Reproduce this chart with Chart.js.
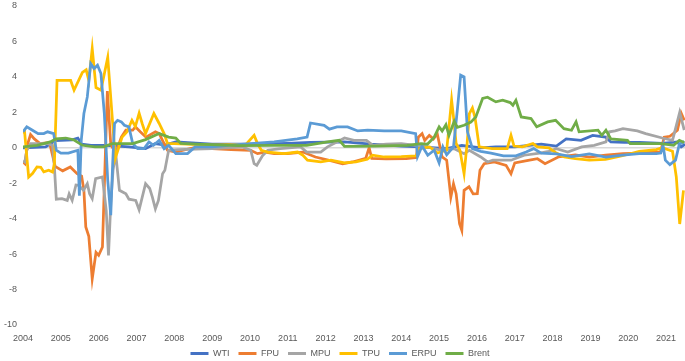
<!DOCTYPE html>
<html>
<head>
<meta charset="utf-8">
<script src="https://cdn.jsdelivr.net/npm/chart.js@4.4.1/dist/chart.umd.min.js"></script>
<style>
  body { margin: 0; background: #fff; }
</style>
</head>
<body>
<canvas id="uncertainty" width="685" height="361"></canvas>
<script>
// dates are decimal years
var wtiDates = [2004.0, 2004.6, 2004.85, 2005.3, 2005.45, 2005.55, 2005.8, 2006.2, 2006.8, 2007.24, 2007.5, 2007.75, 2008.04, 2009.0, 2010.0, 2011.0, 2011.6, 2012.5, 2013.2, 2014.0, 2014.5, 2015.2, 2015.6, 2016.1, 2016.5, 2017.0, 2017.7, 2018.1, 2018.36, 2018.75, 2019.06, 2019.4, 2019.54, 2019.9, 2020.3, 2020.9, 2021.3, 2021.4, 2021.5];
var wtiValues = [0.0, 0.05, 0.4, 0.45, 0.55, 0.2, 0.14, 0.14, 0.05, -0.05, 0.24, 0.15, 0.33, 0.2, 0.2, 0.25, 0.3, 0.33, 0.2, 0.1, 0.05, -0.05, 0.14, 0.0, 0.05, 0.05, 0.2, 0.1, 0.5, 0.42, 0.7, 0.6, 0.33, 0.3, 0.3, 0.25, 0.33, 0.05, 0.2];

var fpuDates = [2004.0, 2004.05, 2004.12, 2004.2, 2004.3, 2004.45, 2004.7, 2004.85, 2005.05, 2005.25, 2005.43, 2005.55, 2005.61, 2005.66, 2005.74, 2005.83, 2005.93, 2006.0, 2006.1, 2006.23, 2006.32, 2006.45, 2006.6, 2006.72, 2006.9, 2006.97, 2007.1, 2007.25, 2007.5, 2007.6, 2007.73, 2007.82, 2008.04, 2008.5, 2009.0, 2009.5, 2010.02, 2010.2, 2010.4, 2010.64, 2011.0, 2011.4, 2011.73, 2012.18, 2012.45, 2012.71, 2013.06, 2013.15, 2013.22, 2013.6, 2014.13, 2014.4, 2014.45, 2014.55, 2014.62, 2014.74, 2014.85, 2014.95, 2015.08, 2015.2, 2015.31, 2015.38, 2015.45, 2015.54, 2015.6, 2015.66, 2015.79, 2015.9, 2016.01, 2016.08, 2016.19, 2016.46, 2016.77, 2016.9, 2017.0, 2017.39, 2017.6, 2017.8, 2018.15, 2018.6, 2018.97, 2019.4, 2019.86, 2020.3, 2020.65, 2020.85, 2020.95, 2021.1, 2021.3, 2021.4, 2021.48];
var fpuValues = [-0.8, -0.9, 0.2, 0.75, 0.5, 0.24, 0.3, -1.05, -1.3, -1.08, -1.46, -1.6, -2.4, -4.47, -5.0, -7.4, -5.9, -6.07, -5.6, 3.2, 0.2, -0.3, 0.6, 0.99, 0.99, 1.18, 0.9, 0.6, 0.9, 0.8, 0.24, -0.14, -0.24, 0.0, -0.05, -0.1, -0.14, -0.33, -0.24, -0.33, -0.33, -0.24, -0.52, -0.75, -0.9, -0.8, -0.6, 0.0, -0.6, -0.62, -0.61, -0.55, 0.6, 0.8, 0.42, 0.7, 0.5, 0.8, -0.52, -0.7, -2.78, -2.03, -2.59, -4.28, -4.66, -2.4, -2.2, -2.6, -2.59, -1.27, -0.9, -0.8, -0.99, -1.46, -0.85, -0.7, -0.62, -0.9, -0.52, -0.4, -0.52, -0.42, -0.33, -0.3, -0.24, -0.24, 0.6, 0.65, 0.99, 1.95, 1.55];

var mpuDates = [2004.0, 2004.05, 2004.1, 2004.2, 2004.63, 2004.78, 2004.83, 2004.88, 2005.03, 2005.17, 2005.22, 2005.3, 2005.4, 2005.47, 2005.6, 2005.7, 2005.76, 2005.83, 2005.92, 2006.1, 2006.2, 2006.26, 2006.32, 2006.38, 2006.45, 2006.55, 2006.72, 2006.8, 2006.98, 2007.07, 2007.24, 2007.35, 2007.42, 2007.5, 2007.58, 2007.69, 2007.75, 2007.85, 2008.1, 2009.0, 2009.8, 2010.02, 2010.11, 2010.18, 2010.33, 2010.47, 2010.8, 2011.34, 2011.5, 2011.87, 2012.05, 2012.5, 2012.75, 2013.08, 2013.25, 2013.6, 2014.0, 2014.38, 2014.7, 2015.05, 2015.4, 2015.66, 2015.8, 2016.1, 2016.28, 2016.42, 2016.9, 2017.25, 2017.66, 2017.9, 2018.1, 2018.4, 2018.77, 2019.1, 2019.41, 2019.5, 2019.65, 2019.86, 2020.24, 2020.46, 2020.9, 2021.17, 2021.36, 2021.48];
var mpuValues = [-0.75, -0.8, -0.14, 0.24, 0.24, 0.14, -1.08, -2.9, -2.87, -2.97, -2.6, -2.97, -2.1, -2.12, -2.4, -2.03, -2.59, -2.87, -1.74, -1.65, -3.53, -6.07, -3.15, -1.27, -0.3, -2.4, -2.6, -2.9, -2.97, -3.5, -2.03, -2.3, -2.78, -3.44, -2.97, -1.46, -1.27, -0.14, -0.1, -0.05, 0.05, -0.14, -0.9, -0.99, -0.45, -0.14, -0.05, 0.05, -0.24, -0.24, 0.05, 0.55, 0.42, 0.42, 0.14, 0.2, 0.24, 0.14, 0.05, -0.14, -0.05, -0.33, -0.14, -0.52, -0.8, -0.7, -0.7, -0.42, -0.3, -0.2, -0.05, -0.24, 0.05, 0.14, 0.33, 0.9, 0.95, 1.08, 0.95, 0.8, 0.55, 0.42, 2.0, 1.0];

var tpuDates = [2004.0, 2004.04, 2004.1, 2004.15, 2004.25, 2004.37, 2004.47, 2004.55, 2004.68, 2004.78, 2004.83, 2004.9, 2005.26, 2005.35, 2005.57, 2005.67, 2005.74, 2005.83, 2005.93, 2006.06, 2006.24, 2006.44, 2006.62, 2006.75, 2006.88, 2006.97, 2007.07, 2007.15, 2007.24, 2007.46, 2007.6, 2007.73, 2007.82, 2008.0, 2009.0, 2009.9, 2010.11, 2010.2, 2010.3, 2010.47, 2010.9, 2011.26, 2011.4, 2011.52, 2011.87, 2012.14, 2012.5, 2012.8, 2013.1, 2013.24, 2013.55, 2014.0, 2014.4, 2014.47, 2014.75, 2014.95, 2015.2, 2015.33, 2015.38, 2015.45, 2015.55, 2015.66, 2015.74, 2015.8, 2015.88, 2015.95, 2016.06, 2016.4, 2016.8, 2016.9, 2016.98, 2017.2, 2017.48, 2017.6, 2017.9, 2018.1, 2018.31, 2018.6, 2018.97, 2019.4, 2019.85, 2020.29, 2020.74, 2020.9, 2021.17, 2021.27, 2021.36, 2021.46];
var tpuValues = [0.8, 0.95, -0.5, -1.65, -1.45, -1.08, -1.1, -1.36, -1.27, -1.37, -0.9, 3.8, 3.8, 3.25, 4.25, 4.4, 3.8, 5.6, 3.4, 3.25, 5.1, -0.6, 0.6, 0.9, 1.55, 1.2, 1.95, 1.37, 0.8, 1.93, 1.37, 0.8, 0.24, 0.24, 0.15, 0.2, 0.7, 0.24, -0.14, -0.24, -0.33, -0.24, -0.42, -0.7, -0.8, -0.7, -0.85, -0.8, -0.65, -0.42, -0.52, -0.5, -0.45, -0.05, 0.05, -0.3, -0.14, 2.7, 1.74, 0.24, -0.14, -1.46, 0.24, 1.93, 2.25, 1.7, 0.05, -0.05, -0.05, 0.7, 0.1, 0.05, 0.24, 0.05, 0.0, -0.3, -0.52, -0.61, -0.7, -0.65, -0.45, -0.2, -0.1, 0.0, -0.2, -1.65, -4.3, -2.4];

var erpuDates = [2004.0, 2004.1, 2004.25, 2004.4, 2004.55, 2004.65, 2004.81, 2004.88, 2005.0, 2005.2, 2005.45, 2005.49, 2005.54, 2005.61, 2005.7, 2005.79, 2005.88, 2005.97, 2006.06, 2006.15, 2006.24, 2006.32, 2006.37, 2006.42, 2006.5, 2006.6, 2006.68, 2006.8, 2006.9, 2007.03, 2007.2, 2007.33, 2007.45, 2007.6, 2007.73, 2007.85, 2008.04, 2008.35, 2008.55, 2009.0, 2009.5, 2010.02, 2010.64, 2011.25, 2011.51, 2011.6, 2011.96, 2012.1, 2012.3, 2012.58, 2012.85, 2013.11, 2013.55, 2014.0, 2014.38, 2014.43, 2014.55, 2014.7, 2014.87, 2015.0, 2015.1, 2015.2, 2015.38, 2015.48, 2015.57, 2015.66, 2015.75, 2015.88, 2016.1, 2016.37, 2016.7, 2017.03, 2017.3, 2017.5, 2017.7, 2018.1, 2018.5, 2018.97, 2019.41, 2019.85, 2020.29, 2020.74, 2020.86, 2020.92, 2020.98, 2021.1, 2021.25, 2021.35, 2021.48];
var erpuValues = [0.9, 1.18, 0.99, 0.8, 0.8, 0.9, 0.8, -0.14, -0.3, -0.3, -0.14, -2.7, 0.42, 1.93, 2.87, 4.75, 4.47, 4.66, 4.19, 1.93, -1.84, -3.8, -0.9, 1.37, 1.55, 1.46, 1.27, 1.18, 0.24, -0.05, -0.05, 0.33, 0.14, 0.42, -0.05, 0.14, -0.33, -0.33, 0.05, 0.05, 0.15, 0.24, 0.33, 0.5, 0.6, 1.4, 1.27, 1.05, 1.18, 1.18, 0.95, 0.99, 0.95, 0.95, 0.8, -0.5, 0.1, -0.42, -0.14, -0.85, 0.05, -0.4, 0.05, 2.1, 4.1, 4.0, 0.9, -0.05, -0.2, -0.3, -0.45, -0.45, -0.24, -0.05, -0.3, -0.35, -0.5, -0.35, -0.52, -0.42, -0.33, -0.33, -0.3, 0.15, -0.7, -0.95, -0.7, 0.2, 0.35];

var brentDates = [2004.0, 2004.37, 2004.72, 2004.87, 2005.13, 2005.34, 2005.57, 2005.9, 2006.13, 2006.36, 2006.9, 2007.24, 2007.6, 2007.85, 2008.04, 2008.17, 2008.6, 2009.7, 2010.64, 2011.5, 2012.05, 2012.36, 2012.5, 2013.3, 2014.16, 2014.52, 2014.69, 2014.87, 2015.0, 2015.08, 2015.18, 2015.26, 2015.33, 2015.4, 2015.48, 2015.66, 2015.84, 2015.97, 2016.15, 2016.28, 2016.5, 2016.68, 2016.88, 2016.95, 2017.03, 2017.17, 2017.43, 2017.58, 2017.87, 2018.08, 2018.3, 2018.5, 2018.62, 2018.7, 2019.2, 2019.3, 2019.41, 2019.54, 2019.98, 2020.05, 2020.86, 2021.2, 2021.35, 2021.48];
var brentValues = [0.05, 0.14, 0.33, 0.5, 0.55, 0.45, 0.14, 0.05, 0.05, 0.24, 0.24, 0.46, 0.8, 0.6, 0.55, 0.24, 0.2, 0.12, 0.14, 0.14, 0.33, 0.42, 0.08, 0.1, 0.14, 0.24, 0.2, 0.6, 1.18, 0.95, 1.3, 0.7, 1.1, 1.5, 1.15, 1.27, 1.45, 1.74, 2.78, 2.85, 2.59, 2.68, 2.55, 2.4, 2.68, 1.74, 1.65, 1.18, 1.46, 1.55, 1.08, 0.99, 1.46, 0.9, 0.99, 0.7, 0.99, 0.5, 0.42, 0.24, 0.24, 0.14, 0.42, 0.3];

var seriesNames = ["WTI", "FPU", "MPU", "TPU", "ERPU", "Brent"];
var seriesColors = ["#4472C4", "#ED7D31", "#A5A5A5", "#FFC000", "#5B9BD5", "#70AD47"];
var seriesDates = [wtiDates, fpuDates, mpuDates, tpuDates, erpuDates, brentDates];
var seriesValues = [wtiValues, fpuValues, mpuValues, tpuValues, erpuValues, brentValues];

var yearTicks = [2004, 2005, 2006, 2007, 2008, 2009, 2010, 2011, 2012, 2013, 2014, 2015, 2016, 2017, 2018, 2019, 2020, 2021];
var yTicks = [-10, -8, -6, -4, -2, 0, 2, 4, 6, 8];

function toPoints(dates, values) {
	var pts = [];
	for (var i = 0; i < dates.length; i++) {
		pts.push({x: dates[i], y: values[i]});
	}
	return pts;
}

var datasets = [];
for (var s = 0; s < seriesNames.length; s++) {
	datasets.push({
		label: seriesNames[s],
		data: toPoints(seriesDates[s], seriesValues[s]),
		borderColor: seriesColors[s],
		backgroundColor: seriesColors[s],
		borderWidth: 2.75,
		pointRadius: 0,
		tension: 0,
		order: seriesNames.length - s   // later series drawn on top, like the original
	});
}

var textColor = "#595959";
var font = {family: "'Liberation Sans', Arial, sans-serif", size: 9};

var ctx = document.getElementById("uncertainty").getContext("2d");
var chart = new Chart(ctx, {
	type: "line",
	data: {datasets: datasets},
	options: {
		responsive: false,
		animation: false,
		layout: {padding: {top: 6, left: 0, right: 0, bottom: 0}},
		plugins: {
			tooltip: {enabled: false},
			legend: {
				position: "bottom",
				maxHeight: 16,
				labels: {
					boxWidth: 18,
					boxHeight: 3,
					padding: 4,
					color: textColor,
					font: font,
					sort: function(a, b) { return a.datasetIndex - b.datasetIndex; },
					generateLabels: function(c) {
						var items = Chart.defaults.plugins.legend.labels.generateLabels(c);
						items.forEach(function(it) { it.text = it.text + "  "; it.lineWidth = 0; });
						return items;
					}
				}
			}
		},
		scales: {
			x: {
				type: "linear",
				min: 2004,
				max: 2021.5,
				grid: {display: false, drawTicks: false, tickLength: 0},
				border: {display: false},
				afterBuildTicks: function(scale) {
					scale.ticks = yearTicks.map(function(v) { return {value: v}; });
				},
				ticks: {
					autoSkip: false,
					maxRotation: 0,
					padding: 8,
					color: textColor,
					font: font,
					callback: function(v) { return String(v); }
				},
				afterFit: function(scale) {
					scale.height = 20;
					scale.paddingLeft = 0;
					scale.paddingRight = 0;
				}
			},
			y: {
				min: -10,
				max: 8,
				grid: {
					drawTicks: false,
					color: function(c) { return c.tick && c.tick.value === 0 ? "#D9D9D9" : "rgba(0,0,0,0)"; },
					lineWidth: 1.5
				},
				border: {display: false},
				afterBuildTicks: function(scale) {
					scale.ticks = yTicks.map(function(v) { return {value: v}; });
				},
				ticks: {
					padding: 6,
					color: textColor,
					font: font
				},
				afterFit: function(scale) {
					scale.width = 23;
					scale.paddingTop = 0;
					scale.paddingBottom = 0;
				}
			}
		}
	}
});
</script>
</body>
</html>
